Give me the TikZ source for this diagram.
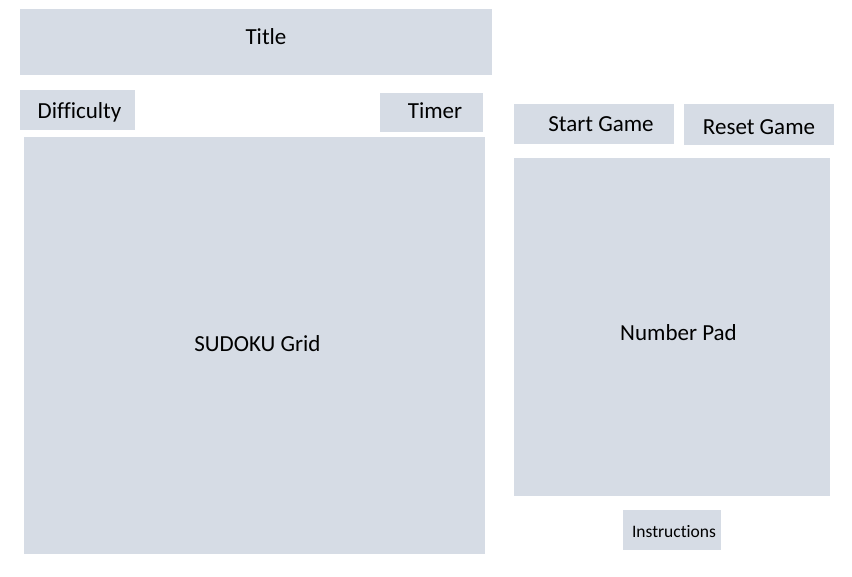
\documentclass[tikz,border=0pt]{standalone}
\usepackage{fontspec}
\setmainfont{Carlito}[Ligatures={NoCommon,NoContextual}]
\definecolor{boxfill}{RGB}{214,220,229}
\begin{document}
\begin{tikzpicture}[x=1pt,y=-1pt,
  panel/.style={rectangle,fill=boxfill,draw=none,inner sep=0pt,anchor=north west},
  lbl/.style={anchor=base,inner sep=0pt,font=\fontsize{23}{26}\selectfont,text=black},
  smalllbl/.style={anchor=base,inner sep=0pt,font=\fontsize{17.5}{20}\selectfont,text=black}]
\useasboundingbox[fill=white] (0,0) rectangle (852,577);
% boxes
\node[panel,minimum width=472pt,minimum height=66pt] (title) at (20,9) {};
\node[panel,minimum width=115pt,minimum height=40pt] (diff) at (20,90) {};
\node[panel,minimum width=103pt,minimum height=39pt] (timer) at (380,93) {};
\node[panel,minimum width=461pt,minimum height=417pt] (grid) at (24,137) {};
\node[panel,minimum width=160pt,minimum height=40pt] (start) at (514,104) {};
\node[panel,minimum width=150pt,minimum height=41pt] (reset) at (684,104) {};
\node[panel,minimum width=316pt,minimum height=338pt] (pad) at (514,158) {};
\node[panel,minimum width=98pt,minimum height=40pt] (instr) at (623,510) {};
% labels
\node[lbl] (titleL) at (266,45) {Title};
\node[lbl] (diffL) at (79.5,118.5) {Difficulty};
\node[lbl] (timerL) at (435,119) {Timer};
\node[lbl] (startL) at (601,131.5) {Start Game};
\node[lbl] (resetL) at (759,135) {Reset Game};
\node[lbl] (gridL) at (257.5,351.7) {SUDOKU Grid};
\node[lbl] (padL) at (678.5,340.7) {Number Pad};
\node[smalllbl] (instrL) at (674,537.3) {Instructions};
\end{tikzpicture}
\end{document}
